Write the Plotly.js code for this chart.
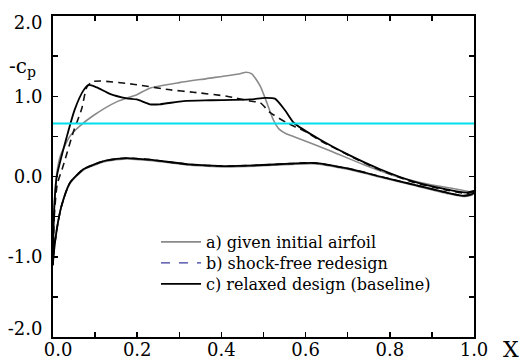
<!DOCTYPE html>
<html>
<head>
<meta charset="utf-8">
<script src="https://cdn.plot.ly/plotly-3.0.1.min.js"></script>
<style>html,body{margin:0;padding:0;background:#fff;}#chart{width:525px;height:362px;}</style>
</head>
<body>
<div id="chart"></div>
<script>
// Series names
const seriesNames = ["a) given initial airfoil", "b) shock-free redesign", "c) relaxed design (baseline)"];

// a) given initial airfoil
const xUpperA = [0, 0.002, 0.008, 0.017, 0.04, 0.064, 0.096, 0.151, 0.199, 0.23, 0.30, 0.365, 0.444, 0.458, 0.472, 0.492, 0.508, 0.523, 0.537, 0.555, 0.571, 0.658, 0.737, 0.816, 0.895, 0.95, 0.99, 1.0];
const cpUpperA = [-1.1, -0.5, 0.0, 0.25, 0.50, 0.63, 0.76, 0.93, 1.02, 1.10, 1.17, 1.22, 1.28, 1.30, 1.28, 1.13, 0.92, 0.71, 0.59, 0.53, 0.50, 0.32, 0.15, 0.0, -0.10, -0.15, -0.19, -0.2];
const xLowerA = [0, 0.001, 0.009, 0.02, 0.04, 0.072, 0.088, 0.127, 0.175, 0.23, 0.325, 0.405, 0.484, 0.563, 0.618, 0.70, 0.777, 0.856, 0.935, 0.975, 0.995, 1.0];
const cpLowerA = [-1.1, -1.0, -0.66, -0.37, -0.09, 0.08, 0.12, 0.19, 0.22, 0.20, 0.14, 0.12, 0.13, 0.15, 0.16, 0.09, -0.01, -0.11, -0.21, -0.25, -0.23, -0.2];

// b) shock-free redesign
const xUpperB = [0, 0.003, 0.01, 0.024, 0.048, 0.068, 0.08, 0.092, 0.112, 0.19, 0.278, 0.333, 0.413, 0.468, 0.492, 0.515, 0.555, 0.579, 0.603, 0.634, 0.70, 0.777, 0.855, 0.935, 0.983, 1.0];
const cpUpperB = [-1.1, -0.5, -0.1, 0.13, 0.55, 0.84, 1.11, 1.18, 1.19, 1.15, 1.08, 1.05, 1.0, 0.94, 0.92, 0.80, 0.67, 0.61, 0.55, 0.45, 0.27, 0.08, -0.07, -0.17, -0.21, -0.19];
const xLowerB = [0, 0.001, 0.009, 0.02, 0.04, 0.072, 0.088, 0.127, 0.175, 0.23, 0.325, 0.405, 0.484, 0.563, 0.618, 0.70, 0.777, 0.856, 0.935, 0.975, 0.995, 1.0];
const cpLowerB = [-1.1, -1.0, -0.66, -0.37, -0.08, 0.09, 0.13, 0.20, 0.23, 0.21, 0.15, 0.13, 0.14, 0.16, 0.17, 0.10, 0.0, -0.10, -0.20, -0.24, -0.22, -0.2];

// c) relaxed design (baseline)
const xUpperC = [0, 0.002, 0.009, 0.033, 0.052, 0.072, 0.084, 0.104, 0.135, 0.175, 0.199, 0.23, 0.254, 0.31, 0.373, 0.468, 0.504, 0.527, 0.552, 0.572, 0.634, 0.70, 0.777, 0.855, 0.935, 0.983, 1.0];
const cpUpperC = [-1.1, -0.5, 0.0, 0.50, 0.84, 1.07, 1.14, 1.11, 1.03, 0.975, 0.96, 0.90, 0.90, 0.94, 0.95, 0.96, 0.98, 0.97, 0.82, 0.67, 0.46, 0.275, 0.09, -0.06, -0.16, -0.20, -0.18];
const xLowerC = [0, 0.001, 0.009, 0.02, 0.04, 0.072, 0.088, 0.127, 0.175, 0.23, 0.325, 0.405, 0.484, 0.563, 0.618, 0.70, 0.777, 0.856, 0.935, 0.975, 0.995, 1.0];
const cpLowerC = [-1.1, -1.0, -0.66, -0.37, -0.08, 0.09, 0.13, 0.20, 0.23, 0.21, 0.15, 0.13, 0.14, 0.16, 0.17, 0.10, 0.0, -0.10, -0.20, -0.24, -0.22, -0.2];

// sonic level
const cpSonic = 0.66;

// Tick labels (end labels nudged inward as in the original figure)
const xTickVals = [0.012, 0.2, 0.4, 0.6, 0.8, 1.0];
const xTickText = ["0.0", "0.2", "0.4", "0.6", "0.8", "1.0"];
const yTickVals = [-1.9, -1, 0, 1, 1.92];
const yTickText = ["-2.0", "-1.0", "0.0", "1.0", "2.0"];
// Tick mark positions
const xTickMarks = [0, 0.1, 0.2, 0.3, 0.4, 0.5, 0.6, 0.7, 0.8, 0.9, 1.0];
const yTickMarks = [-2, -1.5, -1, -0.5, 0, 0.5, 1, 1.5, 2];

function loop(xu, yu, xl, yl) {
  return {x: xu.slice().concat(xl.slice().reverse()), y: yu.slice().concat(yl.slice().reverse())};
}

const A = loop(xUpperA, cpUpperA, xLowerA, cpLowerA);
const B = loop(xUpperB, cpUpperB, xLowerB, cpLowerB);
const C = loop(xUpperC, cpUpperC, xLowerC, cpLowerC);

const serif = "DejaVu Serif";

const traces = [
  {x: A.x, y: A.y, mode: 'lines', name: seriesNames[0], legend: 'legend', line: {color: '#8a8a8a', width: 1.6, shape: 'spline', smoothing: 0.6}},
  {x: [null], y: [null], mode: 'lines', name: seriesNames[1], legend: 'legend2', line: {color: '#3a3aa0', width: 1.4, dash: 'dash'}},
  {x: B.x, y: B.y, mode: 'lines', name: seriesNames[1], showlegend: false, line: {color: '#111', width: 1.6, dash: '7px,5px', shape: 'spline', smoothing: 0.6}},
  {x: C.x, y: C.y, mode: 'lines', name: seriesNames[2], legend: 'legend3', line: {color: '#000', width: 1.8, shape: 'spline', smoothing: 0.6}},
  // carrier for the tick-mark axes (draws nothing)
  {x: [null], y: [null], xaxis: 'x2', yaxis: 'y2', mode: 'lines', showlegend: false, hoverinfo: 'skip'}
];

const axisCommon = {
  showgrid: false, zeroline: false, showline: true, linecolor: '#000', linewidth: 2,
  mirror: true, ticks: '',
  tickfont: {family: serif, size: 18, color: '#000'}
};
const tickAxis = {
  showgrid: false, zeroline: false, showline: false, showticklabels: false,
  ticks: 'inside', ticklen: 5, tickwidth: 1.5, tickcolor: '#000', mirror: 'ticks', tickmode: 'array'
};

const legFont = {family: serif, size: 16, color: '#000'};
function leg(yPx) {
  return {x: (156 - 53) / 421, y: (337 - yPx) / 321, xanchor: 'left', yanchor: 'middle',
          bgcolor: 'rgba(0,0,0,0)', font: legFont, itemwidth: 40};
}

const layout = {
  width: 525, height: 362,
  font: {family: serif},
  margin: {l: 53, r: 51, t: 16, b: 25},
  paper_bgcolor: '#fff', plot_bgcolor: '#fff',
  showlegend: true,
  legend: leg(242), legend2: leg(263), legend3: leg(284),
  xaxis: Object.assign({}, axisCommon, {range: [0, 1], tickmode: 'array', tickvals: xTickVals, ticktext: xTickText, ticklabelstandoff: -5}),
  yaxis: Object.assign({}, axisCommon, {range: [-2, 2], tickmode: 'array', tickvals: yTickVals, ticktext: yTickText, ticklabelstandoff: 5}),
  xaxis2: Object.assign({}, tickAxis, {overlaying: 'x', anchor: 'y2', side: 'bottom', range: [0, 1], tickvals: xTickMarks}),
  yaxis2: Object.assign({}, tickAxis, {overlaying: 'y', anchor: 'x2', side: 'left', range: [-2, 2], tickvals: yTickMarks}),
  shapes: [
    {type: 'line', xref: 'paper', x0: 0, x1: 1, yref: 'y', y0: cpSonic, y1: cpSonic,
     line: {color: '#00e0ea', width: 2}}
  ],
  annotations: [
    {xref: 'paper', yref: 'paper', x: -0.035, y: 0.84, xanchor: 'right', yanchor: 'middle', showarrow: false,
     text: '-c<sub>p</sub>', font: {family: serif, size: 20, color: '#000'}},
    {xref: 'paper', yref: 'paper', x: 1.065, y: -0.04, xanchor: 'left', yanchor: 'middle', showarrow: false,
     text: 'X', font: {family: serif, size: 22, color: '#000'}}
  ]
};

Plotly.newPlot('chart', traces, layout, {displayModeBar: false, staticPlot: true});
</script>
</body>
</html>
